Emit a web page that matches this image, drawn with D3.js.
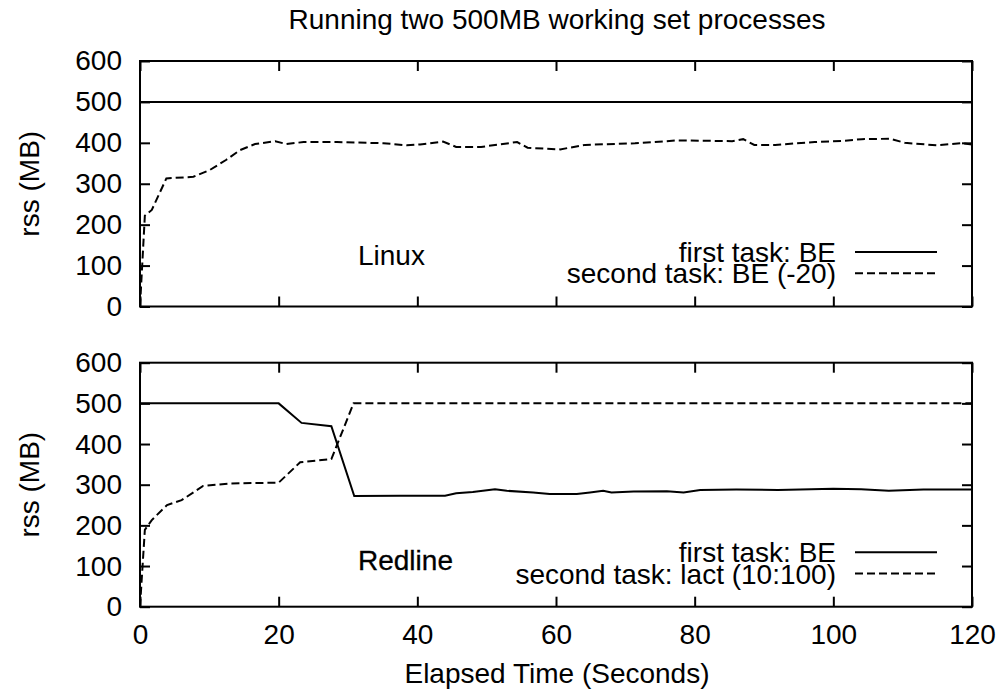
<!DOCTYPE html>
<html>
<head>
<meta charset="utf-8">
<script src="https://cdn.jsdelivr.net/npm/d3@7"></script>
<style>
  body { margin: 0; background: #fff; }
  svg text { font-family: "Liberation Sans", Arial, Helvetica, sans-serif; fill: #000; font-size: 28px; }
</style>
</head>
<body>
<div id="chart"></div>
<script>
// x ticks and y ticks shared by both panels
const xTicks = [0, 20, 40, 60, 80, 100, 120];
const yTicks = [0, 100, 200, 300, 400, 500, 600];

// top panel (Linux)
const linuxFirstT   = [0, 120];
const linuxFirstRss = [500, 500];
const linuxSecondT   = [0, 0.7, 1.7, 3.8, 7.7, 10.1, 12.4, 14.4, 16.6, 19.5, 21.1, 23.6, 28.4, 35.1, 38.5, 40.4, 43.7, 45.6, 49.2, 54.4, 55.9, 60.6, 64.2, 71.4, 77.6, 85.4, 87, 88.6, 91.6, 97.3, 101.5, 104.1, 108.2, 110.3, 114.9, 118.5, 120];
const linuxSecondRss = [0, 222, 236, 313, 317, 334, 358, 382, 397, 404, 397, 402, 402, 399, 394, 396, 403, 390, 390, 402, 388, 384, 395, 399, 406, 404, 409, 395, 395, 402, 405, 409, 410, 400, 394, 399, 396];

// bottom panel (Redline)
const redFirstT   = [0, 20, 23.3, 27.6, 30.9, 37.5, 44, 45.6, 48, 51.2, 52.9, 56.7, 59.1, 63, 64.9, 66.8, 68, 71.2, 76, 78.4, 80.8, 86, 92, 100, 104, 108, 113, 120];
const redFirstRss = [500, 500, 452, 444, 272, 273, 273, 279, 282, 289, 285, 281, 277, 277, 281, 285, 281, 283, 284, 281, 287, 288, 287, 290, 289, 285, 288, 288];
const redSecondT   = [0, 0.7, 1.7, 3.9, 6, 9.1, 13, 20, 23.1, 27.6, 30.8, 120];
const redSecondRss = [0, 189, 213, 250, 262, 297, 303, 305, 355, 363, 500, 500];

const panels = [
  { name: "Linux", top: 61, bottom: 306.5, labelY: 265,
    legend: ["first task: BE", "second task: BE (-20)"],
    series: [[linuxFirstT, linuxFirstRss, null], [linuxSecondT, linuxSecondRss, "8,4"]] },
  { name: "Redline", top: 362.7, bottom: 606.7, labelY: 570,
    legend: ["first task: BE", "second task: lact (10:100)"],
    series: [[redFirstT, redFirstRss, null], [redSecondT, redSecondRss, "8,4"]] }
];

const W = 1001, H = 696;
const left = 140, right = 972;

const svg = d3.select("#chart").append("svg")
  .attr("width", W).attr("height", H);

const x = d3.scaleLinear().domain([0, 120]).range([left, right]);

svg.append("text")
  .attr("x", 557).attr("y", 29)
  .attr("text-anchor", "middle")
  .text("Running two 500MB working set processes");

panels.forEach((p, i) => {
  const y = d3.scaleLinear().domain([0, 600]).range([p.bottom, p.top]);
  const g = svg.append("g");

  // lines first, frame over them
  p.series.forEach(([ts, vs, dash]) => {
    const pts = ts.map((t, k) => [t, vs[k]]);
    g.append("path")
      .datum(pts)
      .attr("fill", "none")
      .attr("stroke", "#000")
      .attr("stroke-width", 2)
      .attr("stroke-dasharray", dash)
      .attr("d", d3.line().x(d => x(d[0])).y(d => y(d[1])));
  });

  const yl = g.append("g").attr("transform", `translate(${left},0)`)
    .call(d3.axisLeft(y).tickValues(yTicks).tickSize(-10).tickPadding(18));
  const yr = g.append("g").attr("transform", `translate(${right},0)`)
    .call(d3.axisRight(y).tickValues(yTicks).tickSize(-10).tickFormat(""));
  const xt = g.append("g").attr("transform", `translate(0,${p.top})`)
    .call(d3.axisTop(x).tickValues(xTicks).tickSize(-10).tickFormat(""));
  const xb = g.append("g").attr("transform", `translate(0,${p.bottom})`)
    .call(d3.axisBottom(x).tickValues(xTicks).tickSize(-10).tickPadding(17)
      .tickFormat(i === 1 ? d3.format("d") : ""));

  [yl, yr, xt, xb].forEach(a => {
    a.select(".domain").remove();
    a.selectAll("line").attr("stroke-width", 2);
    a.selectAll("text").attr("font-size", null).attr("font-family", null);
  });

  g.append("rect")
    .attr("x", left).attr("y", p.top)
    .attr("width", right - left).attr("height", p.bottom - p.top)
    .attr("fill", "none").attr("stroke", "#000").attr("stroke-width", 2);

  // y label
  g.append("text")
    .attr("transform", `translate(39,${(p.top + p.bottom) / 2}) rotate(-90)`)
    .attr("text-anchor", "middle")
    .text("rss (MB)");

  // panel name
  g.append("text")
    .attr("x", 358).attr("y", p.labelY)
    .attr("stroke", i === 1 ? "#000" : null)
    .attr("stroke-width", i === 1 ? 0.3 : null)
    .text(p.name);

  // legend: one text block, two rows
  const legY = p.bottom - 44.5;
  const leg = g.append("text").attr("text-anchor", "end");
  p.legend.forEach((txt, k) => {
    const by = legY + k * 21.3;
    leg.append("tspan").attr("x", 836).attr("y", by).text(txt);
    g.append("line")
      .attr("x1", 855).attr("x2", 937)
      .attr("y1", by - 10).attr("y2", by - 10)
      .attr("stroke", "#000").attr("stroke-width", 2)
      .attr("stroke-dasharray", p.series[k][2]);
  });
});

svg.append("text")
  .attr("x", 557).attr("y", 683)
  .attr("text-anchor", "middle")
  .text("Elapsed Time (Seconds)");
</script>
</body>
</html>
